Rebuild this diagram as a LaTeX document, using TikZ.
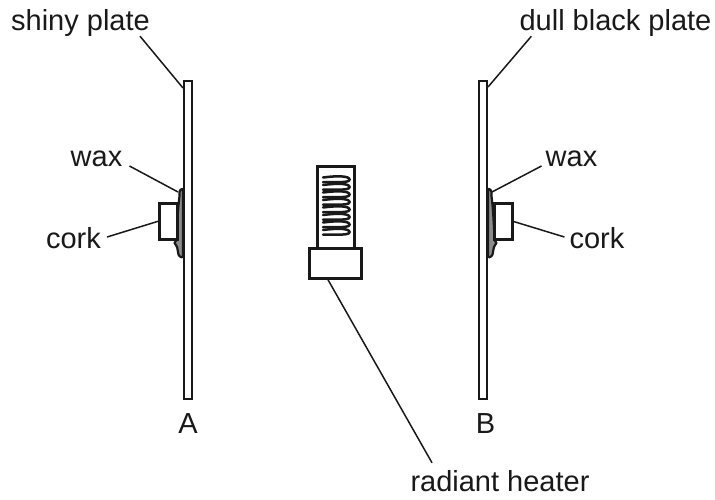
\documentclass[tikz,border=0pt]{standalone}
\usepackage{fontspec}
\setmainfont{Liberation Sans}
\tikzset{
	part/.style={draw=black!90,line width=3pt,fill=white},
	plate/.style={draw=black!90,line width=2.6pt,fill=white},
	waxblob/.style={draw=black!90,line width=2.2pt,fill=black!45,line join=round},
	leader/.style={draw=black!90,line width=1.5pt},
	lbl/.style={font=\fontsize{29}{32}\selectfont,text=black!90,inner sep=0pt,anchor=base}
}
\begin{document}
\begin{tikzpicture}[x=1pt,y=-1pt]
	\useasboundingbox (0,0) rectangle (715,499);
	% plates
	\draw[plate] (184,81) rectangle (192,399);
	\draw[plate] (479,81) rectangle (487,399);
	% wax and cork
	\draw[waxblob] (183,189) .. controls (180,189) and (179,191) .. (179.5,196) .. controls (178,208) and (177,225) .. (176.5,240) -- (174.5,243) .. controls (177,246) and (178,249) .. (178,252) .. controls (178,256) and (181,258) .. (183,257) -- cycle;
	\draw[waxblob] (488,189) .. controls (491,189) and (492,191) .. (491.5,196) .. controls (493,208) and (494,225) .. (494.5,240) -- (496.5,243) .. controls (494,246) and (493,249) .. (493,252) .. controls (493,256) and (490,258) .. (488,257) -- cycle;
	\draw[part] (159.5,203.5) rectangle (177,239);
	\draw[part] (494,203.5) rectangle (512,239);
	% heater
	\draw[part] (317,166) rectangle (354,248);
	\draw[part] (309.5,248) rectangle (361.5,278);
	\foreach \y in {177.5,185,...,231}{
		\draw[line width=2.5pt,draw=black!90,line cap=round] (323,\y) .. controls (338,\y-2) and (349.5,\y-1.5) .. (349.5,\y+2) .. controls (349.5,\y+5.5) and (338,\y+4.5) .. (323,\y+4.5);
	}
	% labels
	\node[lbl] (shiny) at (80.5,30) {shiny plate};
	\node[lbl] (dull) at (615.5,30) {dull black plate};
	\node[lbl] (waxa) at (96.5,166) {wax};
	\node[lbl] (corka) at (73.5,248) {cork};
	\node[lbl] (waxb) at (571.5,166) {wax};
	\node[lbl] (corkb) at (597,248) {cork};
	\node[lbl] (heater) at (500,491) {radiant heater};
	\node[lbl] (plateA) at (188,433) {A};
	\node[lbl] (plateB) at (485.5,433) {B};
	% leader ends
	\coordinate (shinyend) at (183,88);
	\coordinate (dullend) at (488,87);
	\coordinate (waxaend) at (178,192);
	\coordinate (waxbend) at (492,192);
	\coordinate (corkaend) at (159,221);
	\coordinate (corkbend) at (512,221);
	\coordinate (heaterend) at (327,278);
	\draw[leader] (shiny.south east) ++(-10,0) -- (shinyend);
	\draw[leader] (dull.south west) ++(12,0) -- (dullend);
	\draw[leader] (waxa.base east) ++(7,0) -- (waxaend);
	\draw[leader] (waxb.base west) ++(-4,0) -- (waxbend);
	\draw[leader] (corka.base east) ++(6,-11) -- (corkaend);
	\draw[leader] (corkb.base west) ++(-5,-11) -- (corkbend);
	\draw[leader] (heater.north) ++(-68,-7) -- (heaterend);
\end{tikzpicture}
\end{document}
